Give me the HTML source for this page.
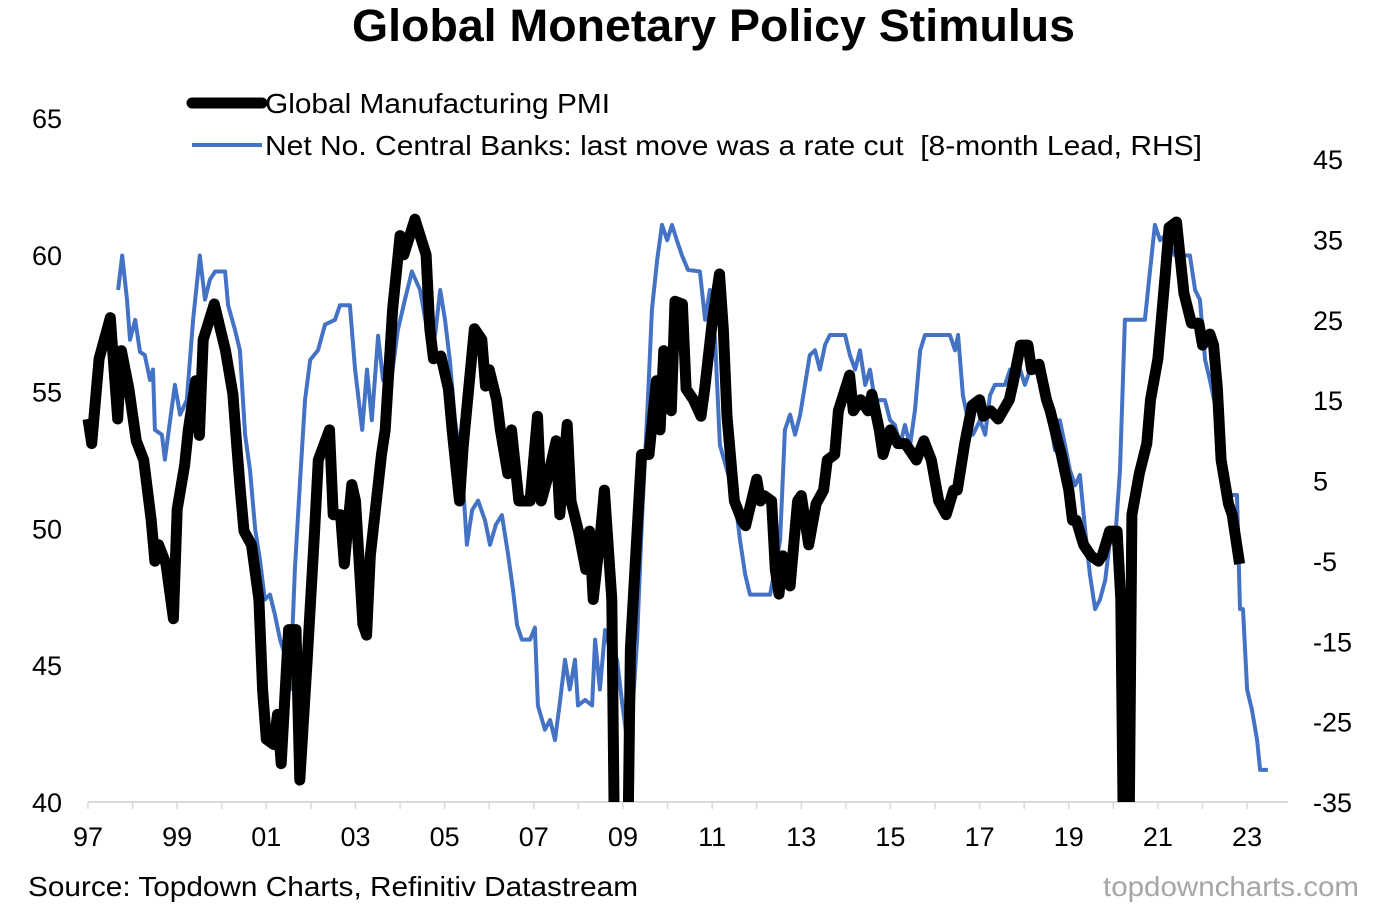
<!DOCTYPE html>
<html>
<head>
<meta charset="utf-8">
<style>
html,body{margin:0;padding:0;background:#fff;}
body{width:1377px;height:915px;overflow:hidden;font-family:"Liberation Sans",Arial,sans-serif;}
svg text{font-family:"Liberation Sans",Arial,sans-serif;}
</style>
</head>
<body>
<svg id="chart" width="1377" height="915" xmlns="http://www.w3.org/2000/svg">
  <text x="352" y="41" textLength="723" lengthAdjust="spacingAndGlyphs" font-size="45" font-weight="bold" fill="#000">Global Monetary Policy Stimulus</text>
  <g>
    <line x1="192" y1="103" x2="262" y2="103" stroke="#000" stroke-width="11" stroke-linecap="round"/>
    <text x="265" y="113" textLength="345" lengthAdjust="spacingAndGlyphs" font-size="28" fill="#000">Global Manufacturing PMI</text>
    <line x1="192" y1="145" x2="262" y2="145" stroke="#4472C4" stroke-width="4"/>
    <text x="265" y="155" textLength="937" lengthAdjust="spacingAndGlyphs" font-size="28" fill="#000" xml:space="preserve">Net No. Central Banks: last move was a rate cut  [8-month Lead, RHS]</text>
  </g>
  <g id="axes"></g>
  <g id="series"></g>
  <text x="28" y="896" textLength="610" lengthAdjust="spacingAndGlyphs" font-size="28" fill="#000">Source: Topdown Charts, Refinitiv Datastream</text>
  <text x="1103" y="896" textLength="256" lengthAdjust="spacingAndGlyphs" font-size="28" fill="#a6a6a6">topdowncharts.com</text>
</svg>
<script>
// Data: months since Jan 1997
const pmiMonths = [0,1,3,6,8,9,11,13,15,17,18,19,21,23,24,26,27,29,30,31,34,37,39,40,41,42,44,46,47,48,50,51,52,54,56,57,59,61,62,65,66,68,69,71,72,74,75,76,79,80,82,84,85,88,91,92,93,95,97,98,100,101,104,106,107,108,110,111,113,114,116,119,121,122,124,126,127,129,130,132,134,135,136,138,139,141,142,143,145,146,149,151,153,154,155,157,158,160,161,163,165,166,168,170,171,172,174,176,177,180,181,182,184,185,186,187,189,191,192,194,196,198,199,201,202,205,206,208,210,211,213,214,216,218,220,222,223,225,227,229,231,233,234,236,238,240,241,243,245,248,249,251,253,254,256,258,259,261,262,264,265,266,268,270,272,273,275,277,278,279,280,281,283,285,286,288,290,291,293,295,297,299,300,302,303,304,305,307,308,310];
const pmiValues = [54.0,53.1,56.2,57.7,54.0,56.5,55.1,53.2,52.5,50.3,48.8,49.4,48.7,46.7,50.7,52.3,53.6,55.4,53.4,56.9,58.2,56.5,54.9,53.1,51.4,49.9,49.4,47.4,44.1,42.3,42.1,43.2,41.4,46.3,46.3,40.8,45.2,49.9,52.5,53.6,50.5,50.5,48.7,51.6,51.0,46.5,46.1,49.0,52.7,53.6,58.0,60.7,60.0,61.3,60.0,57.3,56.2,56.3,55.1,53.6,51.0,53.0,57.3,56.9,55.2,55.8,54.7,53.6,52.0,53.6,51.0,51.0,54.1,51.0,52.0,53.2,50.5,53.8,51.0,49.9,48.5,49.9,47.4,49.9,51.4,47.4,35,35,35,45.6,52.7,52.7,55.4,53.6,56.5,54.3,58.3,58.2,55.1,54.7,54.1,55.1,57.5,59.3,57.3,54.1,51.0,50.3,50.1,51.8,51.0,51.2,51.0,48.5,47.6,49.0,47.9,51.0,51.2,49.4,50.9,51.4,52.5,52.7,54.3,55.6,54.3,54.7,54.3,54.9,53.6,52.7,53.6,53.1,53.1,52.7,52.5,53.2,52.5,51.0,50.5,51.4,51.4,53.1,54.5,54.7,54.1,54.3,54.0,54.7,55.3,56.7,56.7,55.8,56.0,54.7,54.3,53.2,52.7,51.4,50.3,50.3,49.4,49.0,48.8,49.0,49.9,49.9,47.4,35,35,50.5,52.0,53.1,54.7,56.2,59.3,61.0,61.2,58.6,57.5,57.5,56.7,57.1,56.7,55.1,52.5,50.9,50.5,48.7];
const cbMonths = [8.1,9.2,10.5,11.3,12.7,14,15.3,16.7,17.5,18,19.9,20.7,22.1,23.4,24.8,26.6,28.3,30.1,31.5,32.8,34.2,36.9,37.7,39.6,40.9,42.3,43.6,45,46.3,47.6,49,50.3,51.7,53,54.4,55.7,57.1,58.4,59.8,61.9,63.8,66.5,67.8,70.5,71.9,73.8,75.1,76.4,78.1,79.4,81.3,83.4,85.3,87.2,89.4,91.3,92.1,93.4,94.8,96.1,97.4,98.8,100.7,102,103.4,105,106.9,108.2,109.8,111.4,113.1,114.4,115.5,116.8,119,120.3,121.1,123,124.4,125.7,127.1,128.4,129.7,131.1,131.9,133.8,135.7,136.5,137.8,139.2,140.5,142.4,143.7,145.1,146.4,147.8,149.1,150.7,151.8,153.2,154.5,155.9,157.2,158.5,159.9,161.5,164.7,166.1,167.4,168.8,170.1,172,174.2,175.5,176.9,178.2,183.6,184.9,186.3,187.6,189,190.3,191.7,193,194.3,195.7,197,198.4,199.7,203.8,205.1,206.5,207.8,209.2,210.5,211.8,214.5,215.9,217.2,218.6,219.9,221.3,222.6,224,225.3,232,233.4,234.2,235.5,236.9,238.2,240.1,241.5,242.8,244.1,246.8,248.2,249.5,250.9,252.2,253.6,256.3,257.6,258.9,260.3,261.6,263,264.3,265.7,267,268.4,269.7,271.1,272.4,273.8,275.1,276.4,277.8,279.1,284.5,285.9,287.2,288.6,289.9,291.2,292.6,296.6,298,299.3,300.7,302,303.4,304.7,306.1,307.4,309.3,310.1,310.9,312,313.3,314.7,315.5,317.6];
const cbValues = [28.7,33,27.5,22.5,25,21,20.6,17.5,18.8,11.3,10.7,7.6,12.5,16.9,13.2,15,25,33,27.5,30,31,31,26.8,23.7,21.2,10.7,6.3,-1.1,-4.9,-9.8,-9.2,-11.7,-14.8,-16.7,-21,-6,5,15,20,21.2,24.4,25,26.8,26.8,18.8,11.3,18.8,12.5,23,17.5,16.3,23.7,27.5,31,28.7,23.7,25,23,28.7,25,20,12.5,6.3,-3,1.3,2.5,0,-3,-0.5,0.7,-4.3,-8.6,-13,-14.8,-14.8,-13.3,-23,-26,-24.8,-27.3,-22.3,-17.3,-21,-17.3,-23,-22.3,-23,-14.8,-21,-13.6,-16,-17.3,-22.3,-27.3,-24.8,-14.8,0,15,26.2,32.4,36.8,34.9,36.8,34.9,33,31.2,31,25,28.7,22.5,9.4,6.3,2.6,-2.4,-6.7,-9.2,-9.2,-6,-2.4,11.3,13.2,10.7,13.2,16.9,20.6,21.2,18.8,21.9,23.1,23.1,20.6,18.8,21.2,16.9,18.8,15,15,12.5,11.9,9.4,11.9,9.4,13.8,21.2,23.1,23.1,21.2,23.1,15.6,12.5,10.7,12.5,10.7,15.6,16.9,16.9,18.8,17.5,18.8,16.9,18.8,18.1,15,12.5,8.8,12.5,9.4,6.3,4.4,5.7,-1.1,-6.7,-11,-9.8,-7.4,-2.4,-3,6.3,25,25,31.2,36.8,34.9,35.5,34.3,33,33,28.7,27.5,20,17.5,14.4,10.7,5.7,3.2,3.2,-11,-11,-21,-23.5,-27.3,-31,-31];
const xTickLabels = ["97","99","01","03","05","07","09","11","13","15","17","19","21","23"];
const leftTicks = [40,45,50,55,60,65];
const rightTicks = [-35,-25,-15,-5,5,15,25,35,45];

const NS = "http://www.w3.org/2000/svg";
const X0 = 88, MONTH = 3.715;
const xScale = m => X0 + m * MONTH;
const yLeft = v => 802 - (v - 40) * (684 / 25);
const yRight = v => 802 - (v + 35) * (643 / 80);

const axes = document.getElementById('axes');
const series = document.getElementById('series');
function mk(tag, attrs, parent){ const e=document.createElementNS(NS,tag); for(const k in attrs) e.setAttribute(k,attrs[k]); parent.appendChild(e); return e; }

const base = mk('line',{x1:88,y1:802,x2:1288,y2:802,stroke:'#d9d9d9','stroke-width':2},axes);


for(let i=0;i<=26;i++){
  const tk = mk('line',{x1:xScale(i*12),y1:802,x2:xScale(i*12),y2:809,stroke:'#d9d9d9','stroke-width':1.5},axes);
  
  
}
xTickLabels.forEach((l,i)=>{
  const t = mk('text',{x:xScale(i*24),y:846,'text-anchor':'middle','font-size':27,fill:'#000'},axes);
  t.textContent=l;
  
  
});
leftTicks.forEach(v=>{
  const t = mk('text',{x:62,y:yLeft(v)+10,'text-anchor':'end','font-size':27,fill:'#000'},axes);
  t.textContent=v;
  
  
});
rightTicks.forEach(v=>{
  const t = mk('text',{x:1313,y:yRight(v)+10,'text-anchor':'start','font-size':27,fill:'#000'},axes);
  t.textContent=v;
  
  
});

const defs = mk('defs',{},series);
const cp = mk('clipPath',{id:'plotclip'},defs);
mk('rect',{x:80,y:60,width:1220,height:742},cp);

const cbPath = mk('path',{d:cbMonths.map((m,i)=>(i?'L':'M')+xScale(m).toFixed(1)+','+yRight(cbValues[i]).toFixed(1)).join(''),fill:'none',stroke:'#4472C4','stroke-width':4,'stroke-linejoin':'round','clip-path':'url(#plotclip)'},series);



const pmiPath = mk('path',{d:pmiMonths.map((m,i)=>(i?'L':'M')+xScale(m).toFixed(1)+','+yLeft(pmiValues[i]).toFixed(1)).join(''),fill:'none',stroke:'#000','stroke-width':11,'stroke-linejoin':'round','clip-path':'url(#plotclip)'},series);


</script>
</body>
</html>
